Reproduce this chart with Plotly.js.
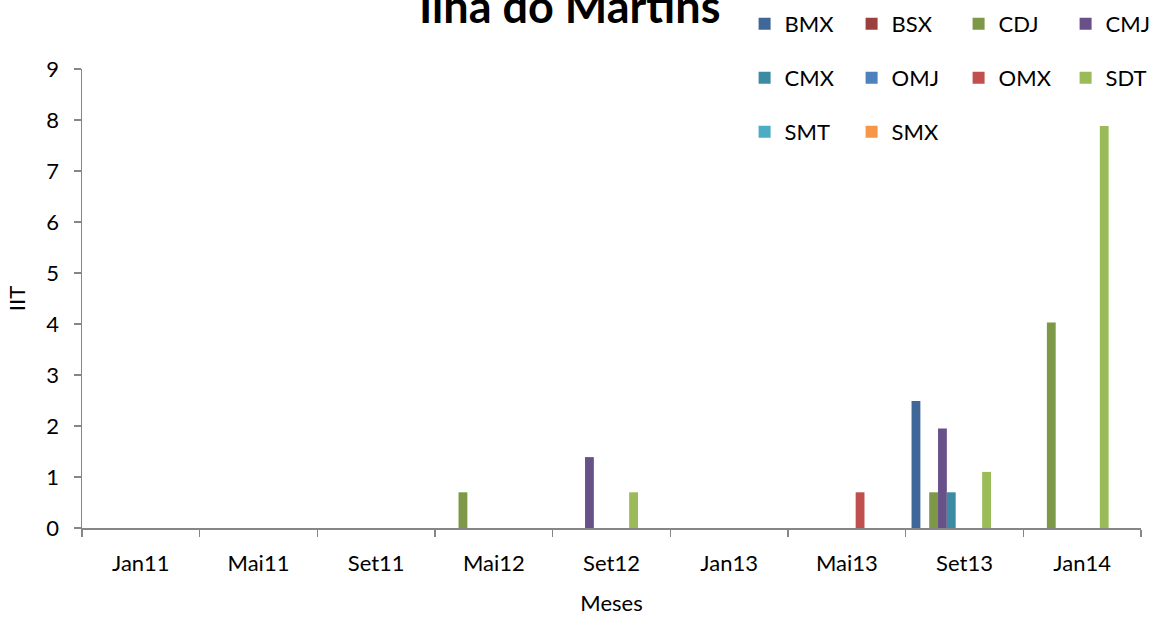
<!DOCTYPE html>
<html>
<head>
<meta charset="utf-8">
<script src="https://cdn.plot.ly/plotly-3.0.1.min.js"></script>
<style>
  body { margin: 0; background: #fff; }
  #chart { width: 1158px; height: 617px; }
</style>
</head>
<body>
<div id="chart"></div>
<script>
// meses e valores de IIT por espécie
const meses = ['Jan11', 'Mai11', 'Set11', 'Mai12', 'Set12', 'Jan13', 'Mai13', 'Set13', 'Jan14'];
const bmx = [0, 0, 0, 0, 0, 0, 0, 2.49, 0];
const bsx = [0, 0, 0, 0, 0, 0, 0, 0, 0];
const cdj = [0, 0, 0, 0.7, 0, 0, 0, 0.7, 4.03];
const cmj = [0, 0, 0, 0, 1.39, 0, 0, 1.95, 0];
const cmx = [0, 0, 0, 0, 0, 0, 0, 0.7, 0];
const vazio1 = [0, 0, 0, 0, 0, 0, 0, 0, 0];
const omj = [0, 0, 0, 0, 0, 0, 0, 0, 0];
const omx = [0, 0, 0, 0, 0, 0, 0.7, 0, 0];
const sdt = [0, 0, 0, 0, 0.7, 0, 0, 1.1, 7.88];
const vazio2 = [0, 0, 0, 0, 0, 0, 0, 0, 0];
const smt = [0, 0, 0, 0, 0, 0, 0, 0, 0];
const smx = [0, 0, 0, 0, 0, 0, 0, 0, 0];

// [nome, valores, cor, legenda]
var series = [
  ['BMX', bmx, '#3f6797', 'legend'],
  ['BSX', bsx, '#9a403e', 'legend'],
  ['CDJ', cdj, '#7d9847', 'legend'],
  ['CMJ', cmj, '#685088', 'legend'],
  ['CMX', cmx, '#3b8ca2', 'legend2'],
  ['', vazio1, '#c5762f', null],
  ['OMJ', omj, '#4f81bd', 'legend2'],
  ['OMX', omx, '#c0504d', 'legend2'],
  ['SDT', sdt, '#9bbb59', 'legend2'],
  ['', vazio2, '#8064a2', null],
  ['SMT', smt, '#4bacc6', 'legend3'],
  ['SMX', smx, '#f79646', 'legend3']
];

var data = series.map(function (s) {
  return {
    type: 'bar',
    name: s[0],
    x: meses,
    y: s[1],
    marker: { color: s[2] },
    showlegend: s[3] !== null,
    legend: s[3] || 'legend',
    hoverinfo: 'y+name'
  };
});

const fonte = { family: 'Lato, "Open Sans", sans-serif', size: 22, color: '#000' };

function legenda(yPx) {
  return {
    orientation: 'h',
    xref: 'container', yref: 'container',
    x: 0.643, y: 1 - yPx / 617,
    xanchor: 'left', yanchor: 'middle',
    entrywidth: 62, entrywidthmode: 'pixels',
    font: fonte,
    bgcolor: 'rgba(0,0,0,0)',
    itemclick: false
  };
}

var layout = {
  width: 1158,
  height: 617,
  paper_bgcolor: '#fff',
  plot_bgcolor: '#fff',
  font: fonte,
  margin: { l: 82, r: 17, t: 69, b: 89, autoexpand: false },
  barmode: 'group',
  bargap: 0.1,
  bargroupgap: 0,
  title: {
    text: '<b>Ilha do Martins</b>',
    font: { family: 'Lato, sans-serif', size: 45, color: '#000' },
    x: 0.492, xanchor: 'center',
    y: 1 - 7 / 617, yanchor: 'middle'
  },
  xaxis: {
    type: 'category',
    showline: true, linecolor: '#868686', linewidth: 1.5,
    ticks: 'outside', tickson: 'boundaries', ticklen: 7, tickcolor: '#868686', tickwidth: 1.5,
    ticklabelstandoff: 15,
    showgrid: false, zeroline: false,
    title: { text: 'Meses', font: fonte, standoff: 20 }
  },
  yaxis: {
    range: [0, 9], dtick: 1,
    showline: true, linecolor: '#868686', linewidth: 1.5,
    ticks: 'outside', ticklen: 7, tickcolor: '#868686', tickwidth: 1.5,
    ticklabelstandoff: 10,
    showgrid: false, zeroline: false,
    title: { text: 'IIT', font: fonte, standoff: 14 }
  },
  legend: legenda(24),
  legend2: legenda(78),
  legend3: legenda(132)
};

Plotly.newPlot('chart', data, layout, { displayModeBar: false, staticPlot: true });
</script>
</body>
</html>
